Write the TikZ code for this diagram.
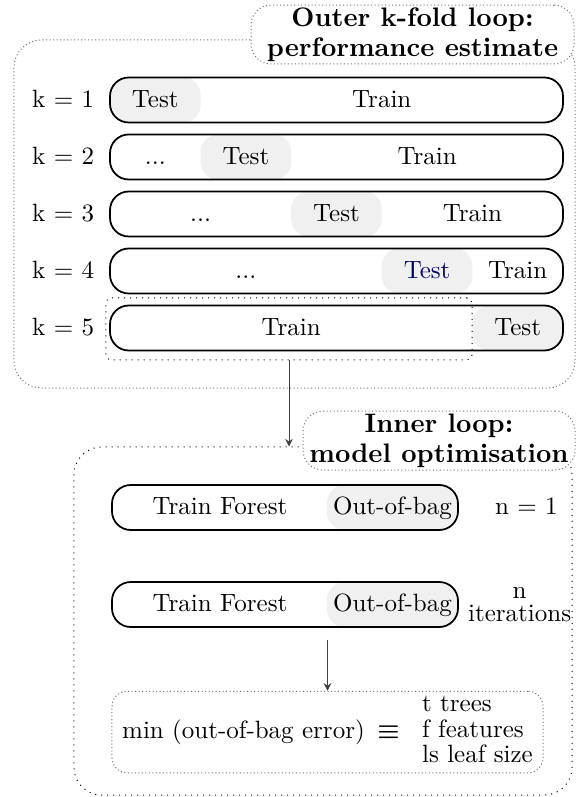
\documentclass[tikz,border=0pt]{standalone}
\usepackage{amsmath}
\usetikzlibrary{arrows.meta, positioning}

\begin{document}
\begin{tikzpicture}[x=0.4pt, y=-0.4pt, txt/.style={text height=1.6ex,text depth=.25ex}, band/.style={rectangle,draw,line width=0.7pt,rounded corners=7.5pt,minimum width=181.2pt,minimum height=18pt}, tst/.style={txt,rectangle,fill=black!6,rounded corners=7pt,inner sep=1pt,minimum width=36.24pt,minimum height=18pt}, box/.style={rectangle,draw=black!55,densely dotted,fill=white,rounded corners=8pt,inner sep=1pt}, ttl/.style={box,align=center,font=\bfseries\fontsize{10.7}{12}\selectfont}, sel/.style={rectangle,draw,dotted,thin}, arr/.style={-{Stealth[length=3pt,width=3pt]},black!75}]
  \useasboundingbox (0,0) rectangle (576,797);
  % outer loop
  \node[box,rounded corners=11pt,minimum width=224.4pt,minimum height=139.2pt](outer) at (294.5,214){};
  \node[ttl,minimum width=129.2pt,minimum height=22pt](outert) at (412.5,34.5){Outer k-fold loop:\\performance estimate};
  \foreach \k/\c in {1/black,2/black,3/black,4/blue!40!black,5/black}{
    \node[tst,text=\c](t\k) at ({155.3+90.6*(\k-1)},{100+57*(\k-1)}){Test};
    \node[band](r\k) at (336.5,{100+57*(\k-1)}){};
    \node[txt,left=2.5pt of r\k](k\k){k $=$ \k};
  }
  \node[txt](tr1) at (381.8,100){Train};
  \node[txt](d2) at (155.3,157){...};
  \node[txt](tr2) at (427.1,157){Train};
  \node[txt](d3) at (200.6,214){...};
  \node[txt](tr3) at (472.4,214){Train};
  \node[txt](d4) at (245.9,271){...};
  \node[txt](tr4) at (517.7,271){Train};
  \node[txt](tr5) at (291.2,328){Train};
  \node[sel,rounded corners=2pt,minimum width=146.4pt,minimum height=24.8pt](trainset) at (289,329){};
  % inner loop
  \node[sel,rounded corners=11pt,minimum width=199.2pt,minimum height=139.2pt](inner) at (323,621){};
  \node[ttl,minimum width=108.8pt,minimum height=23.6pt](innert) at (439,440.5){Inner loop:\\model optimisation};
  \draw[arr](trainset.south)--(trainset.south|-inner.north);
  \foreach \i/\y in {1/507.5,2/604.5}{
    \node[tst,minimum width=52.4pt,minimum height=18pt](o\i) at (392.5,\y){Out-of-bag};
    \node[band,minimum width=138.4pt,minimum height=18pt](f\i) at (285,\y){};
    \node[txt](tf\i) at (220,\y){Train Forest};
  }
  \node[txt,right=11pt of f1](n1){n $=$ 1};
  \node[right=2.5pt of f2,inner sep=1pt,align=center,font=\fontsize{10}{9.2}\selectfont](niter){n\\iterations};
  \node[box,rounded corners=6pt,minimum width=172.4pt,minimum height=32pt,font=\fontsize{10}{10.2}\selectfont](res) at (327.5,732){min (out-of-bag error)\hspace{5pt}$\boldsymbol{\equiv}$\hspace{9pt}\begin{tabular}{@{}l@{}}t trees\\f features\\ls leaf size\end{tabular}};
  \draw[arr]([yshift=-5pt]f2.south-|res.north)--(res.north);
\end{tikzpicture}
\end{document}
